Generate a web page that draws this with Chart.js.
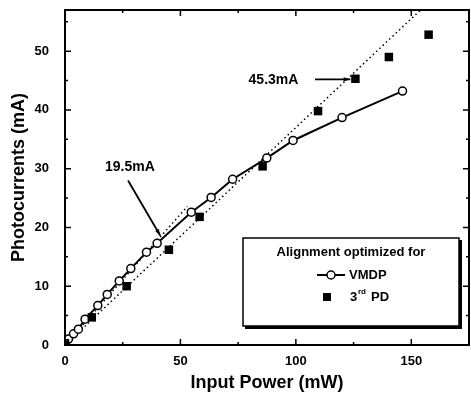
<!DOCTYPE html>
<html>
<head>
<meta charset="utf-8">
<script src="https://cdn.jsdelivr.net/npm/chart.js@4/dist/chart.umd.min.js"></script>
<style>
  html, body { margin:0; padding:0; background:#fff; overflow:hidden; }
  #wrap { width:475px; height:398px; }
</style>
</head>
<body>
<div id="wrap"><canvas id="stat"></canvas></div>
<script>
// values
var vmdpPower = [0, 1.5, 3.7, 5.8, 8.7, 14.2, 18.3, 23.5, 28.5, 35.3, 39.9, 54.7, 63.3, 72.6, 87.4, 98.8, 120.0, 146.2];
var vmdpCurrent = [0.3, 1.0, 1.9, 2.7, 4.4, 6.7, 8.6, 10.9, 13.0, 15.8, 17.3, 22.6, 25.1, 28.2, 31.8, 34.8, 38.7, 43.2];
var pdPower = [0, 11.6, 26.7, 45.0, 58.3, 85.6, 109.6, 125.8, 140.3, 157.5];
var pdCurrent = [0.3, 4.7, 10.0, 16.2, 21.8, 30.4, 39.8, 45.3, 49.0, 52.8];
var fitLowPower = [0, 154];
var fitLowCurrent = [0, 57];
var fitHighPower = [0, 53];
var fitHighCurrent = [0, 23.6];
var xTicks = [0, 50, 100, 150];
var yTicks = [0, 10, 20, 30, 40, 50];

function pts(xs, ys) {
  return xs.map(function(x, i) { return {x: x, y: ys[i]}; });
}

var FONT = "'Liberation Sans', Arial, sans-serif";

function noPad(s) {
  s.paddingLeft = 0; s.paddingRight = 0; s.paddingTop = 0; s.paddingBottom = 0;
}

// frame, inward ticks, notes and the boxed legend
var extras = {
  id: 'extras',
  afterDraw: function(chart) {
    var c = chart.ctx, a = chart.chartArea;
    var xs = chart.scales.x, ys = chart.scales.y;
    c.save();
    c.strokeStyle = '#000';
    c.lineWidth = 2;
    c.strokeRect(a.left, a.top, a.right - a.left, a.bottom - a.top);
    c.lineWidth = 1.5;
    for (var v = 0; v <= 175; v += 25) {
      var px = xs.getPixelForValue(v);
      var len = (v % 50 === 0) ? 6 : 3;
      c.beginPath();
      c.moveTo(px, a.bottom); c.lineTo(px, a.bottom - len);
      c.moveTo(px, a.top); c.lineTo(px, a.top + len);
      c.stroke();
    }
    for (var w = 0; w <= 55; w += 5) {
      var py = ys.getPixelForValue(w);
      var l2 = (w % 10 === 0) ? 6 : 3;
      c.beginPath();
      c.moveTo(a.left, py); c.lineTo(a.left + l2, py);
      c.moveTo(a.right, py); c.lineTo(a.right - l2, py);
      c.stroke();
    }

    // notes
    c.fillStyle = '#000';
    c.font = 'bold 14px ' + FONT;
    c.textAlign = 'center';
    c.textBaseline = 'middle';
    c.fillText('19.5mA', xs.getPixelForValue(28.1), ys.getPixelForValue(30.2));
    c.fillText('45.3mA', xs.getPixelForValue(90.3), ys.getPixelForValue(45.0));
    function arrow(x1, y1, x2, y2) {
      var p1x = xs.getPixelForValue(x1), p1y = ys.getPixelForValue(y1);
      var p2x = xs.getPixelForValue(x2), p2y = ys.getPixelForValue(y2);
      var ang = Math.atan2(p2y - p1y, p2x - p1x);
      c.lineWidth = 1.8;
      c.beginPath(); c.moveTo(p1x, p1y); c.lineTo(p2x, p2y); c.stroke();
      c.beginPath();
      c.moveTo(p2x, p2y);
      c.lineTo(p2x - 7 * Math.cos(ang - 0.3), p2y - 7 * Math.sin(ang - 0.3));
      c.lineTo(p2x - 7 * Math.cos(ang + 0.3), p2y - 7 * Math.sin(ang + 0.3));
      c.closePath(); c.fill();
    }
    arrow(27.3, 28.0, 41.3, 18.6);
    arrow(108.3, 45.2, 123.6, 45.2);

    // legend box with shadow
    var bx = 243, by = 238, bw = 216, bh = 88;
    c.fillStyle = '#000';
    c.fillRect(bx + 2, by + 2, bw + 1, bh + 1);
    c.fillStyle = '#fff';
    c.fillRect(bx, by, bw, bh);
    c.lineWidth = 1.5;
    c.strokeRect(bx, by, bw, bh);
    c.fillStyle = '#000';
    c.font = 'bold 13px ' + FONT;
    c.textAlign = 'center';
    c.fillText('Alignment optimized for', bx + bw / 2, by + 14);
    var d0 = chart.data.datasets[0];
    c.lineWidth = 2;
    c.beginPath(); c.moveTo(317, 275); c.lineTo(345, 275); c.stroke();
    c.beginPath(); c.arc(331, 275, 4, 0, Math.PI * 2);
    c.fillStyle = d0.pointBackgroundColor; c.fill();
    c.lineWidth = d0.pointBorderWidth; c.stroke();
    c.fillStyle = '#000';
    c.textAlign = 'left';
    c.fillText('VMDP', 349, 275);
    c.fillRect(323, 293, 8, 8);
    c.fillText('3', 350, 297);
    c.font = 'bold 8px ' + FONT;
    c.fillText('rd', 358, 292);
    c.font = 'bold 13px ' + FONT;
    c.fillText('PD', 371, 297);
    c.restore();
  }
};

const ctx = document.querySelector('#stat').getContext('2d');

let chart = new Chart(ctx, {
  type: 'scatter',
  data: {
    datasets: [{
      label: 'VMDP',
      data: pts(vmdpPower, vmdpCurrent),
      showLine: true,
      borderColor: '#000',
      borderWidth: 2,
      pointStyle: 'circle',
      pointRadius: 4,
      pointBackgroundColor: '#fff',
      pointBorderColor: '#000',
      pointBorderWidth: 1.5,
      order: 1
    }, {
      label: '3rd PD',
      data: pts(pdPower, pdCurrent),
      showLine: false,
      pointStyle: 'rect',
      pointRadius: 6,
      pointBackgroundColor: '#000',
      pointBorderColor: '#000',
      pointBorderWidth: 0,
      order: 0
    }, {
      label: 'fit low',
      data: pts(fitLowPower, fitLowCurrent),
      showLine: true,
      borderColor: '#000',
      borderWidth: 1.5,
      borderDash: [1.5, 3],
      pointRadius: 0,
      order: 2
    }, {
      label: 'fit high',
      data: pts(fitHighPower, fitHighCurrent),
      showLine: true,
      borderColor: '#000',
      borderWidth: 1.5,
      borderDash: [1.5, 3],
      pointRadius: 0,
      order: 2
    }]
  },
  options: {
    responsive: true,
    maintainAspectRatio: false,
    animation: false,
    layout: { padding: { top: 10, right: 0, left: 0, bottom: 0 } },
    plugins: {
      legend: { display: false },
      tooltip: { enabled: false }
    },
    scales: {
      x: {
        type: 'linear',
        min: 0,
        max: 175,
        afterBuildTicks: function(s) { s.ticks = xTicks.map(function(v) { return {value: v}; }); },
        grid: { display: false, drawTicks: false },
        border: { display: false },
        ticks: { color: '#000', padding: 9, font: { family: FONT, size: 13, weight: 'bold' } },
        title: { display: true, text: 'Input Power (mW)', color: '#000', padding: { top: 7 },
                 font: { family: FONT, size: 18, weight: 'bold' } },
        afterFit: function(s) { s.height = 53; noPad(s); }
      },
      y: {
        type: 'linear',
        min: 0,
        max: 57,
        afterBuildTicks: function(s) { s.ticks = yTicks.map(function(v) { return {value: v}; }); },
        grid: { display: false, drawTicks: false },
        border: { display: false },
        ticks: { color: '#000', padding: 16, font: { family: FONT, size: 13, weight: 'bold' } },
        title: { display: true, text: 'Photocurrents (mA)', color: '#000', padding: { top: 8, bottom: 4 },
                 font: { family: FONT, size: 18, weight: 'bold' } },
        afterFit: function(s) { s.width = 65; noPad(s); }
      }
    }
  },
  plugins: [extras]
});
</script>
</body>
</html>
